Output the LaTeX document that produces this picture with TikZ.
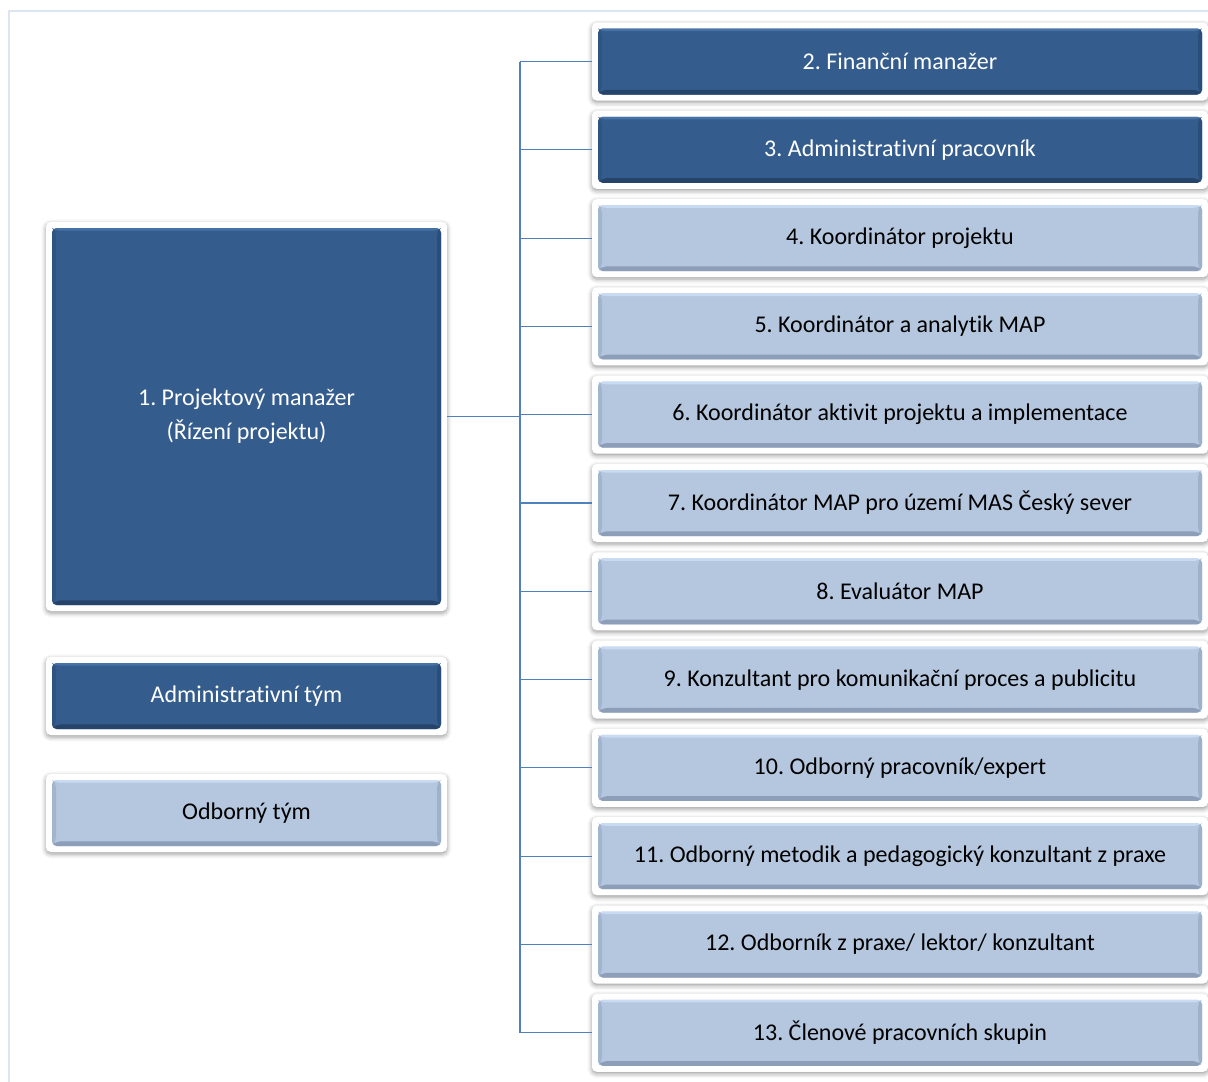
\documentclass[tikz,border=0pt]{standalone}
\usepackage{fontspec}
\setmainfont{Carlito}[RawFeature={-liga}]
\frenchspacing
\usetikzlibrary{calc,shadows.blur}
\definecolor{dkfill}{RGB}{52,93,142}
\definecolor{dktop}{RGB}{70,114,166}
\definecolor{dkleft}{RGB}{46,84,130}
\definecolor{dkright}{RGB}{42,78,122}
\definecolor{dkbot}{RGB}{38,68,106}
\definecolor{ltfill}{RGB}{180,199,222}
\definecolor{lttop}{RGB}{200,219,243}
\definecolor{ltleft}{RGB}{162,181,206}
\definecolor{ltright}{RGB}{158,177,202}
\definecolor{ltbot}{RGB}{140,158,184}
\definecolor{linkcol}{RGB}{79,129,189}
\definecolor{framecol}{RGB}{221,229,243}
\newcommand\bevelfill[5]{%
 \coordinate (@a) at ($(path picture bounding box.north west)+(4.5pt,-4.5pt)$);
 \coordinate (@c) at ($(path picture bounding box.south east)+(-4.5pt,4.5pt)$);
 \coordinate (@b) at (@a -| @c);
 \coordinate (@d) at (@a |- @c);
 \fill[#1] (@a) rectangle (@c);
 \fill[#2] (@a) -- (@b) -- ($(@b)+(-3pt,-2pt)$) -- ($(@a)+(3pt,-2pt)$) -- cycle;
 \fill[#3] (@a) -- ($(@a)+(3pt,-2pt)$) -- ($(@d)+(3pt,3.5pt)$) -- (@d) -- cycle;
 \fill[#4] (@b) -- ($(@b)+(-3pt,-2pt)$) -- ($(@c)+(-3pt,3.5pt)$) -- (@c) -- cycle;
 \fill[#5] (@d) -- ($(@d)+(3pt,3.5pt)$) -- ($(@c)+(-3pt,3.5pt)$) -- (@c) -- cycle;
}
\tikzset{
 framed/.style={fill=white, rounded corners=3.5pt,
   blur shadow={shadow xshift=0pt, shadow yshift=-1.5pt, shadow blur radius=3.5pt, shadow opacity=40},
   inner sep=0pt, align=center, font=\fontsize{18}{25.5}\selectfont},
 darkbox/.style={framed, text=white, path picture={\bevelfill{dkfill}{dktop}{dkleft}{dkright}{dkbot}}},
 lightbox/.style={framed, text=black, path picture={\bevelfill{ltfill}{lttop}{ltleft}{ltright}{ltbot}}},
 rbox/.style={minimum width=462pt, minimum height=58.5pt},
 lbox/.style={minimum width=300.75pt, minimum height=58.5pt},
 link/.style={draw=linkcol, line width=0.8pt},
}
\begin{document}
\begin{tikzpicture}[x=0.75pt, y=-0.75pt]
\useasboundingbox (0,0) rectangle (1208,1082);
\draw[framecol, line width=1.5pt] (9,1100) -- (9,11) -- (1230,11);

\node[darkbox, minimum width=300.75pt, minimum height=291.75pt] (n1) at (246.5,416.5) {1. Projektový manažer\\(Řízení projektu)};
\node[darkbox, lbox] (adm) at (246.5,696) {Administrativní tým};
\node[lightbox, lbox] (odb) at (246.5,813) {Odborný tým};

\node[darkbox, rbox] (n2) at (900,61.5) {2. Finanční manažer};
\node[darkbox, rbox] (n3) at (900,149.8) {3. Administrativní pracovník};
\node[lightbox, rbox] (n4) at (900,238.1) {4. Koordinátor projektu};
\node[lightbox, rbox] (n5) at (900,326.4) {5. Koordinátor a analytik MAP};
\node[lightbox, rbox] (n6) at (900,414.7) {6. Koordinátor aktivit projektu a implementace};
\node[lightbox, rbox] (n7) at (900,503) {7. Koordinátor MAP pro území MAS Český sever};
\node[lightbox, rbox] (n8) at (900,591.3) {8. Evaluátor MAP};
\node[lightbox, rbox] (n9) at (900,679.6) {9. Konzultant pro komunikační proces a publicitu};
\node[lightbox, rbox] (n10) at (900,767.9) {10. Odborný pracovník/expert};
\node[lightbox, rbox] (n11) at (900,856.2) {11. Odborný metodik a pedagogický konzultant z praxe};
\node[lightbox, rbox] (n12) at (900,944.5) {12. Odborník z praxe/ lektor/ konzultant};
\node[lightbox, rbox] (n13) at (900,1032.8) {13. Členové pracovních skupin};

\coordinate (spine) at (520,416.5);
\draw[link] (n2.west -| spine) -- (n13.west -| spine);
\foreach \i in {2,...,13} {\draw[link] (n\i.west -| spine) -- (n\i.west);}
\draw[link, line width=1.3pt] (n1.east) -- (n1.east -| spine);
\end{tikzpicture}
\end{document}
